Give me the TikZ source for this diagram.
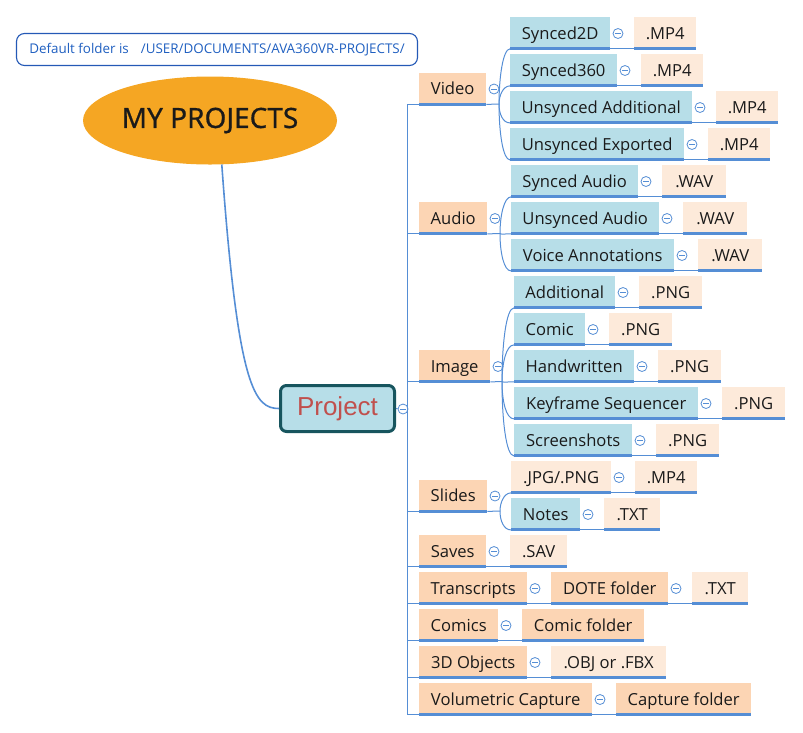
\documentclass[tikz,border=0pt]{standalone}
\usepackage{fontspec}
\setmainfont{Open Sans}
\newfontfamily\titlefont{Noto Sans}[FakeBold=0.6]
\newfontfamily\projfont{Liberation Sans}
\usetikzlibrary{calc,shapes.geometric}
\definecolor{peach}{HTML}{FCD5B4}
\definecolor{lblue}{HTML}{B7DEE8}
\definecolor{lpeach}{HTML}{FDEADA}
\definecolor{ulcol}{HTML}{558ED5}
\definecolor{orangec}{HTML}{F5A623}
\definecolor{projborder}{HTML}{17555E}
\definecolor{projtext}{HTML}{C0504D}
\definecolor{notecol}{HTML}{1F5FC0}
\definecolor{noteborder}{HTML}{2459B6}
\definecolor{txt}{HTML}{1A1A1A}
\newcommand\bx[6][topbox]{\node[#1, minimum width={#4-#3}] (#2) at (#3,#5) {#6};}
\newcommand\tg[3]{\node[tog] (#1) at ({#2+8},{#3+16.5}) {};}
\newcommand\hl[2]{\draw[conn] ([yshift=1.5pt]#1.south east) -- ([yshift=1.5pt]#2.south west);}
\newcommand\cv[2]{\draw[conn] (#1) .. controls ($(#1)!0.5!(#1 |- #2.south west)$) and ($(#1 |- #2.south west)+(4,-1.5)$) .. ([yshift=1.5pt]#2.south west);}
\begin{document}
\begin{tikzpicture}[x=1pt,y=-1pt,
  base/.style={anchor=north west, minimum height=33, inner xsep=0, inner ysep=0,
    text height=14, text depth=3, text=txt, font=\fontsize{16.6}{18}\selectfont,
    path picture={\fill[ulcol] ([yshift=3pt]path picture bounding box.south west) rectangle (path picture bounding box.south east);}},
  topbox/.style={base, fill=peach},
  sub/.style={base, fill=lblue},
  leaf/.style={base, fill=lpeach},
  tog/.style={circle, draw=ulcol, fill=white, line width=0.8pt, minimum size=10, inner sep=0,
    path picture={\draw[ulcol, line width=0.8pt] ([xshift=-2.6pt]path picture bounding box.center) -- ([xshift=2.6pt]path picture bounding box.center);}},
  conn/.style={draw=ulcol, line width=1pt}
]
\useasboundingbox (0,0) rectangle (803,732);

% note
\node[draw=noteborder, line width=1.1pt, rounded corners=8, minimum width=401, minimum height=32, inner sep=0,
  text=notecol, font=\fontsize{13.4}{15}\selectfont] (note) at (217,49.5) {Default folder is\hspace{12pt}/USER/DOCUMENTS/AVA360VR-PROJECTS/};

% main topic
\node[ellipse, fill=orangec, minimum width=254, minimum height=88, inner sep=0,
  font=\titlefont\fontsize{28}{30}\selectfont, text=txt] (myp) at (210,120.5) {MY PROJECTS};

\node[draw=projborder, line width=3pt, fill=lblue, rounded corners=6, minimum width=114, minimum height=46,
  inner sep=0, font=\projfont\fontsize{26}{28}\selectfont, text=projtext] (project) at (337.5,408.5) {Project};
\node[tog] (projc) at (403,409) {};

\draw[ulcol, line width=1.6pt] (myp.-75) .. controls (238,390) and (255,408.5) .. (project.west);
\draw[conn] (project.east) -- (projc);

% top level
\bx{video}{419}{486}{72.5}{Video}
\tg{videoc}{486}{72.5}
\bx{audio}{419}{487}{202}{Audio}
\tg{audioc}{487}{202}
\bx{image}{419}{490}{350}{Image}
\tg{imagec}{490}{350}
\bx{slides}{419}{487}{479.5}{Slides}
\tg{slidesc}{487}{479.5}
\bx{saves}{419}{486}{535}{Saves}
\tg{savesc}{486}{535}
\bx{trans}{419}{527}{572}{Transcripts}
\tg{transc}{527}{572}
\bx{comics}{419}{498}{609}{Comics}
\tg{comicsc}{498}{609}
\bx{objs}{419}{527}{646}{3D Objects}
\tg{objsc}{527}{646}
\bx{vol}{419}{592}{683}{Volumetric Capture}
\tg{volc}{592}{683}

% trunk
\draw[conn] ([xshift=-12pt,yshift=1.5pt]video.south west) -- ([xshift=-12pt,yshift=1.5pt]vol.south west);
\foreach \n in {video,audio,image,slides,saves,trans,comics,objs,vol}
  {\draw[conn] ([yshift=1.5pt]\n.south west) -- ++(-12,0);}

% video children
\bx[sub]{s2d}{510}{610}{17}{Synced2D}
\tg{s2dc}{610}{17}
\bx[leaf]{s2dx}{634}{696}{17}{.MP4}
\bx[sub]{s360}{510}{617}{54}{Synced360}
\tg{s360c}{617}{54}
\bx[leaf]{s360x}{641}{703}{54}{.MP4}
\bx[sub]{uadd}{510}{692}{91}{Unsynced Additional}
\tg{uaddc}{692}{91}
\bx[leaf]{uaddx}{716}{778}{91}{.MP4}
\bx[sub]{uexp}{510}{684}{128}{Unsynced Exported}
\tg{uexpc}{684}{128}
\bx[leaf]{uexpx}{708}{770}{128}{.MP4}

% audio children
\bx[sub]{sau}{511}{638}{165}{Synced Audio}
\tg{sauc}{638}{165}
\bx[leaf]{saux}{662}{726}{165}{.WAV}
\bx[sub]{uau}{511}{659}{202}{Unsynced Audio}
\tg{uauc}{659}{202}
\bx[leaf]{uaux}{683}{747}{202}{.WAV}
\bx[sub]{vann}{511}{674}{239}{Voice Annotations}
\tg{vannc}{674}{239}
\bx[leaf]{vannx}{698}{762}{239}{.WAV}

% image children
\bx[sub]{iadd}{514}{615}{276}{Additional}
\tg{iaddc}{615}{276}
\bx[leaf]{iaddx}{639}{702}{276}{.PNG}
\bx[sub]{icom}{514}{585}{313}{Comic}
\tg{icomc}{585}{313}
\bx[leaf]{icomx}{609}{672}{313}{.PNG}
\bx[sub]{ihw}{514}{634}{350}{Handwritten}
\tg{ihwc}{634}{350}
\bx[leaf]{ihwx}{658}{721}{350}{.PNG}
\bx[sub]{ikf}{514}{698}{387}{Keyframe Sequencer}
\tg{ikfc}{698}{387}
\bx[leaf]{ikfx}{722}{785}{387}{.PNG}
\bx[sub]{iss}{514}{632}{424}{Screenshots}
\tg{issc}{632}{424}
\bx[leaf]{issx}{656}{719}{424}{.PNG}

% slides children
\bx[leaf]{jpg}{511}{611}{461}{.JPG/.PNG}
\tg{jpgc}{611}{461}
\bx[leaf]{jpgx}{635}{697}{461}{.MP4}
\bx[sub]{notes}{511}{580}{498}{Notes}
\tg{notesc}{580}{498}
\bx[leaf]{notesx}{604}{660}{498}{.TXT}

% single chains
\bx[leaf]{savesx}{510}{567}{535}{.SAV}
\bx[topbox]{dote}{551}{668}{572}{DOTE folder}
\tg{dotec}{668}{572}
\bx[leaf]{dotex}{692}{748}{572}{.TXT}
\bx[topbox]{comicf}{522}{644}{609}{Comic folder}
\bx[leaf]{objx}{551}{666}{646}{.OBJ or .FBX}
\bx[topbox]{capf}{616}{751}{683}{Capture folder}

% junctions
\coordinate (vj) at (499,104);
\coordinate (aj) at (500,233.5);
\coordinate (ij) at (502,381.5);
\coordinate (sj) at (500,511);
\draw[conn] ([yshift=1.5pt]video.south east) -- (vj);
\draw[conn] ([yshift=1.5pt]audio.south east) -- (aj);
\draw[conn] ([yshift=1.5pt]image.south east) -- (ij);
\draw[conn] ([yshift=1.5pt]slides.south east) -- (sj);
\foreach \c in {s2d,s360,uadd,uexp} {\cv{vj}{\c}}
\foreach \c in {sau,uau,vann} {\cv{aj}{\c}}
\foreach \c in {iadd,icom,ihw,ikf,iss} {\cv{ij}{\c}}
\foreach \c in {jpg,notes} {\cv{sj}{\c}}

% straight links
\hl{s2d}{s2dx}
\hl{s360}{s360x}
\hl{uadd}{uaddx}
\hl{uexp}{uexpx}
\hl{sau}{saux}
\hl{uau}{uaux}
\hl{vann}{vannx}
\hl{iadd}{iaddx}
\hl{icom}{icomx}
\hl{ihw}{ihwx}
\hl{ikf}{ikfx}
\hl{iss}{issx}
\hl{jpg}{jpgx}
\hl{notes}{notesx}
\hl{saves}{savesx}
\hl{trans}{dote}
\hl{dote}{dotex}
\hl{comics}{comicf}
\hl{objs}{objx}
\hl{vol}{capf}
\end{tikzpicture}
\end{document}
